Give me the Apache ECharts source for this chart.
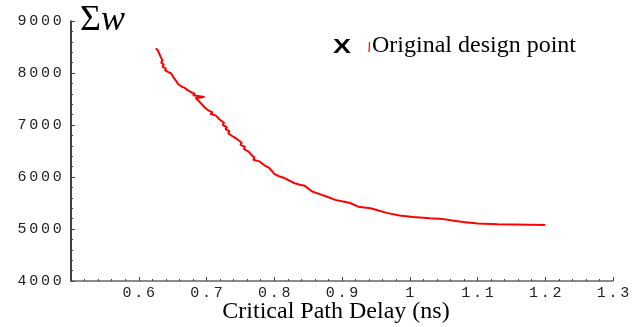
<!DOCTYPE html>
<html>
<head>
<meta charset="utf-8">
<script src="https://cdn.jsdelivr.net/npm/echarts@6/dist/echarts.min.js"></script>
<style>
  html, body { margin: 0; padding: 0; background: #fff; }
  #chart { width: 639px; height: 327px; }
</style>
</head>
<body>
<div id="chart"></div>
<script>
// critical path delay (ns) vs total width
const delay = [
  0.625, 0.628, 0.626, 0.630, 0.628, 0.632, 0.630, 0.635, 0.633, 0.637,
  0.635, 0.640, 0.639, 0.643, 0.648, 0.646, 0.651, 0.649, 0.655, 0.653,
  0.658, 0.663, 0.667, 0.665, 0.672, 0.676, 0.674, 0.683, 0.680, 0.697,
  0.684, 0.688, 0.686, 0.693, 0.691, 0.698, 0.704, 0.709, 0.706, 0.714,
  0.712, 0.719, 0.722, 0.726, 0.724, 0.730, 0.728, 0.734, 0.732, 0.740,
  0.745, 0.743, 0.752, 0.750, 0.757, 0.755, 0.762, 0.766, 0.764, 0.771,
  0.769, 0.778, 0.776, 0.785, 0.792, 0.790, 0.797, 0.800, 0.806, 0.815,
  0.830, 0.838, 0.845, 0.856, 0.865, 0.878, 0.890, 0.905, 0.912, 0.924,
  0.942, 0.955, 0.966, 0.985, 1.005, 1.030, 1.050, 1.065, 1.079, 1.100,
  1.130, 1.153, 1.200
]
const weight = [
  8470, 8440, 8410, 8380, 8350, 8320, 8290, 8240, 8200, 8160,
  8120, 8090, 8050, 8020, 7990, 7960, 7920, 7890, 7850, 7820,
  7790, 7740, 7720, 7690, 7670, 7640, 7610, 7600, 7570, 7540,
  7520, 7470, 7440, 7400, 7370, 7330, 7270, 7240, 7210, 7180,
  7150, 7110, 7080, 7040, 7000, 6960, 6920, 6880, 6840, 6770,
  6730, 6700, 6660, 6620, 6580, 6540, 6490, 6430, 6400, 6370,
  6330, 6300, 6270, 6230, 6180, 6150, 6110, 6060, 6020, 5980,
  5880, 5850, 5830, 5720, 5680, 5620, 5560, 5520, 5500, 5430,
  5400, 5350, 5310, 5260, 5230, 5205, 5190, 5160, 5135, 5105,
  5090, 5085, 5075
]
const xTicks = { min: 0.5, max: 1.3, step: 0.1 }
const yTicks = { min: 4000, max: 9000, step: 1000 }

const monoFont = '"Liberation Mono", "DejaVu Sans Mono", monospace'
const serifFont = '"Liberation Serif", "DejaVu Serif", serif'

// spread each char into a fixed cell, like the wide courier labels
const spaced = s => String(s).split('').map(c => '{c|' + c + '}').join('')
const cellRich = { c: { width: 11.7, align: 'center', fontFamily: monoFont, fontSize: 15, color: '#222' } }

const chart = echarts.init(document.getElementById('chart'), null, { renderer: 'canvas' })

const option = {
    backgroundColor: '#fff',
    animation: false,
    grid: { left: 71, right: 26, top: 21, bottom: 46, containLabel: false },
    xAxis: {
        type: 'value',
        min: xTicks.min,
        max: xTicks.max,
        interval: xTicks.step,
        axisLine: { show: true, lineStyle: { color: '#666', width: 1.5 } },
        axisTick: { show: true, inside: true, length: 4, lineStyle: { color: '#444' } },
        minorTick: { show: true, splitNumber: 5, length: 2, lineStyle: { color: '#444' } },
        splitLine: { show: false },
        axisLabel: {
            showMinLabel: false,
            margin: 5,
            formatter: v => spaced(+v.toFixed(1)),
            rich: cellRich
        }
    },
    yAxis: {
        type: 'value',
        min: yTicks.min,
        max: yTicks.max,
        interval: yTicks.step,
        axisLine: { show: true, lineStyle: { color: '#000', width: 1.5 } },
        axisTick: { show: true, inside: true, length: 4, lineStyle: { color: '#444' } },
        minorTick: { show: true, splitNumber: 5, length: 2, lineStyle: { color: '#444' } },
        splitLine: { show: false },
        axisLabel: {
            margin: 8,
            formatter: v => spaced(v),
            rich: cellRich
        }
    },
    series: [
        {
            type: 'line',
            data: delay.map((d, i) => [d, weight[i]]),
            showSymbol: false,
            smooth: false,
            lineStyle: { color: '#ff0000', width: 2 }
        }
    ],
    graphic: [
        {
            type: 'text',
            left: 80,
            top: 3,
            style: {
                text: '{s|Σ}{w|w}',
                rich: {
                    s: { fontFamily: serifFont, fontSize: 36, fill: '#000' },
                    w: { fontFamily: serifFont, fontSize: 36, fontStyle: 'italic', fill: '#000' }
                }
            }
        },
        {
            type: 'text',
            x: 333,
            y: 37,
            scaleX: 1.35,
            style: { text: 'X', fontFamily: '"Liberation Sans", Arial, sans-serif', fontSize: 20, fontWeight: 'bold', fill: '#000', verticalAlign: 'top' }
        },
        {
            type: 'line',
            shape: { x1: 369.5, y1: 42, x2: 369, y2: 52 },
            style: { stroke: '#ff0000', lineWidth: 1.2 }
        },
        {
            type: 'text',
            x: 372,
            y: 34,
            style: { text: 'Original design point', fontFamily: serifFont, fontSize: 24, fill: '#000', verticalAlign: 'top' }
        },
        {
            type: 'text',
            x: 336,
            y: 300,
            style: { text: 'Critical Path Delay (ns)', fontFamily: serifFont, fontSize: 24, fill: '#000', align: 'center', verticalAlign: 'top' }
        }
    ]
}

chart.setOption(option)
</script>
</body>
</html>
